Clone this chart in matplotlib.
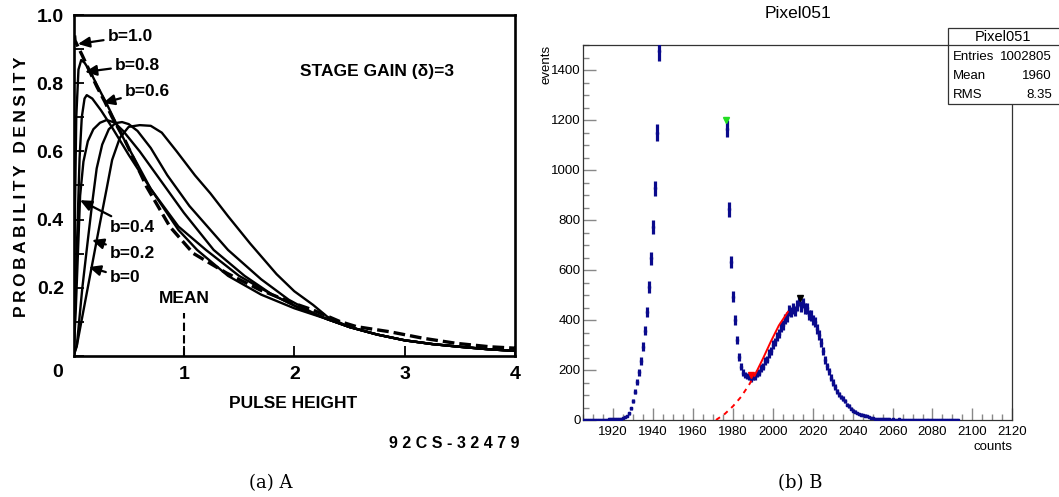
import numpy as np
import matplotlib.pyplot as plt
from matplotlib.patches import Rectangle
from matplotlib.lines import Line2D
from matplotlib.ticker import MultipleLocator

plt.rcParams['font.family'] = ['Liberation Sans', 'DejaVu Sans']

# ---------- panel (a): single electron pulse height curves ----------
b10_x = [0.01, 0.014, 0.077, 0.149, 0.213, 0.285, 0.349, 0.466, 0.663, 0.874, 1.085, 1.388,
         1.689, 1.991, 2.169, 2.414, 2.565, 2.867, 3.168, 3.471, 3.773, 4.0]
b10_y = [0.94, 0.925, 0.883, 0.833, 0.789, 0.745, 0.701, 0.633, 0.496, 0.379, 0.301, 0.243,
         0.194, 0.155, 0.135, 0.101, 0.086, 0.071, 0.052, 0.037, 0.027, 0.023]

tail_x = [2.5, 2.75, 3.0, 3.25, 3.5, 3.75, 4.0]
tail_y = [0.085, 0.063, 0.046, 0.035, 0.027, 0.02, 0.015]

b08_x = [0, 0.01, 0.025, 0.045, 0.07, 0.1, 0.15, 0.22, 0.3, 0.45, 0.7, 0.95, 1.12, 1.4,
         1.7, 2.0, 2.3]
b08_y = [0, 0.35, 0.7, 0.84, 0.868, 0.86, 0.835, 0.79, 0.74, 0.64, 0.49, 0.37, 0.311, 0.235,
         0.18, 0.14, 0.108]

b06_x = [0, 0.02, 0.04, 0.055, 0.075, 0.1, 0.12, 0.17, 0.25, 0.35, 0.5, 0.7, 0.95, 1.2, 1.5,
         1.8, 2.05, 2.3]
b06_y = [0, 0.2, 0.42, 0.58, 0.7, 0.755, 0.765, 0.755, 0.72, 0.67, 0.59, 0.49, 0.38, 0.311,
         0.235, 0.18, 0.14, 0.108]

b04_x = [0, 0.02, 0.04, 0.06, 0.09, 0.13, 0.18, 0.24, 0.3, 0.37, 0.45, 0.6, 0.8, 1.0, 1.27,
         1.55, 1.8, 2.05, 2.3]
b04_y = [0, 0.13, 0.3, 0.47, 0.57, 0.63, 0.665, 0.684, 0.692, 0.685, 0.66, 0.6, 0.51, 0.42,
         0.311, 0.235, 0.18, 0.14, 0.108]

b02_x = [0, 0.03, 0.08, 0.13, 0.17, 0.21, 0.26, 0.32, 0.38, 0.44, 0.5, 0.58, 0.7, 0.85, 1.05,
         1.4, 1.7, 1.95, 2.15, 2.3]
b02_y = [0, 0.03, 0.2, 0.34, 0.45, 0.55, 0.62, 0.665, 0.683, 0.686, 0.68, 0.66, 0.61, 0.53,
         0.44, 0.311, 0.225, 0.165, 0.13, 0.108]

b00_x = [0, 0.03, 0.1, 0.17, 0.24, 0.3, 0.35, 0.42, 0.5, 0.6, 0.7, 0.8, 0.935, 1.1, 1.24,
         1.4, 1.6, 1.84, 2.0, 2.17, 2.3]
b00_y = [0, 0.03, 0.15, 0.27, 0.39, 0.49, 0.575, 0.64, 0.672, 0.677, 0.675, 0.655, 0.6, 0.53,
         0.477, 0.41, 0.33, 0.24, 0.19, 0.15, 0.115]

# label text position and arrow tip, in data units
b_labels = ['b=1.0', 'b=0.8', 'b=0.6', 'b=0.4', 'b=0.2', 'b=0']
b_text_xy = [(0.31, 0.938), (0.376, 0.853), (0.466, 0.777), (0.33, 0.378), (0.33, 0.302), (0.33, 0.229)]
b_tip_xy = [(0.04, 0.915), (0.104, 0.833), (0.267, 0.742), (0.059, 0.457), (0.168, 0.34), (0.14, 0.261)]

# ---------- panel (b): Pixel051 histogram ----------
lo_counts = np.arange(1905, 1944)
lo_events = [1, 1, 1, 1, 1, 1, 1, 1, 2, 2, 2, 2, 2, 3, 3, 3, 4, 4, 5, 6, 8, 11, 15, 27, 47,
             76, 113, 151, 191, 237, 293, 357, 433, 533, 647, 773, 927, 1150, 1475]
hi_counts = np.arange(1977, 2094)
hi_events = [1165, 843, 632, 493, 400, 320, 253, 213, 190, 180, 176, 172, 165, 174, 172, 186,
             190, 208, 214, 236, 242, 266, 276, 302, 312, 334, 346, 372, 380, 404, 412, 438,
             432, 446, 436, 458, 476, 455, 468, 446, 447, 420, 418, 400, 392, 365, 340, 310,
             275, 240, 215, 195, 170, 150, 133, 115, 103, 92, 85, 75, 62, 55, 45, 38, 33, 28,
             25, 22, 20, 18, 16, 13, 10, 8, 6, 5, 5, 4, 4, 3, 3, 3, 2, 3, 2, 2, 3, 2, 2, 2,
             2, 1, 2, 2, 1, 2, 2, 1, 1, 2, 1, 1, 2, 1, 1, 1, 1, 1, 1, 1, 1, 1, 1, 1, 1, 1, 1]

fit_dash_x = [1971.5, 1976, 1980, 1984, 1988, 1991]
fit_dash_y = [0, 25, 55, 92, 140, 180]
fit_solid_x = [1991, 1995, 1999, 2003, 2007.5]
fit_solid_y = [180, 245, 314, 378, 432]

peak_x = [1976.5, 1989, 2013.5]
peak_y = [1200, 182, 488]
peak_colors = ['#22dd22', 'red', 'black']

x2_ticks = [1920, 1940, 1960, 1980, 2000, 2020, 2040, 2060, 2080, 2100, 2120]
y2_ticks = [0, 200, 400, 600, 800, 1000, 1200, 1400]
stats_rows = [('Entries', '1002805'), ('Mean', '1960'), ('RMS', '8.35')]

W, H = 1059, 497
fig = plt.figure(figsize=(W / 100, H / 100), dpi=100)


def fx(px):
    return px / W


def fy(py):
    return 1 - py / H


# ---------------- left panel ----------------
ax = fig.add_axes([fx(73.5), fy(356), fx(515 - 73.5), (356 - 15) / H])
ax.set_xlim(0, 4)
ax.set_ylim(0, 1)
for s in ax.spines.values():
    s.set_linewidth(1.9)

ax.plot(b10_x, b10_y, color='k', lw=2.4, dashes=(3.5, 1.5))
for xs, ys in [(b08_x, b08_y), (b06_x, b06_y), (b04_x, b04_y), (b02_x, b02_y), (b00_x, b00_y)]:
    ax.plot(list(xs) + tail_x, list(ys) + tail_y, color='k', lw=1.7)

bold = dict(fontweight='bold', color='k')
for lab, (tx, ty), (hx, hy) in zip(b_labels, b_text_xy, b_tip_xy):
    ax.annotate(lab, xy=(hx, hy), xytext=(tx, ty), ha='left', va='center', fontsize=12.5,
                arrowprops=dict(arrowstyle='-|>,head_length=0.55,head_width=0.25', lw=1.6,
                                color='k', shrinkA=1, shrinkB=0), **bold)

ax.text(2.05, 0.835, 'STAGE GAIN (δ)=3', fontsize=12.5, ha='left', va='center', **bold)
ax.text(1.0, 0.17, 'MEAN', fontsize=12.5, ha='center', va='center', **bold)
ax.plot([1, 1], [0, 0.125], color='k', lw=1.5, dashes=(4, 2))

ax.set_xticks([1, 2, 3, 4])
ax.set_xticklabels(['1', '2', '3', '4'])
ax.set_yticks([0.2, 0.4, 0.6, 0.8, 1.0])
ax.set_yticklabels(['0.2', '0.4', '0.6', '0.8', '1.0'])
ax.yaxis.set_minor_locator(MultipleLocator(0.1))
ax.tick_params(direction='in', length=7, width=1.3, labelsize=14, pad=7)
ax.tick_params(axis='y', which='minor', direction='in', length=7, width=1.3)
for t in ax.get_xticklabels() + ax.get_yticklabels():
    t.set_fontweight('bold')
ax.text(-0.14, -0.047, '0', fontsize=14, ha='center', va='center', clip_on=False, **bold)

fig.text(fx(22), fy(187), '\u2009'.join('PROBABILITY DENSITY'), rotation=90, ha='center',
         va='center', fontsize=12.5, **bold)
fig.text(fx(293), fy(403), 'PULSE HEIGHT', ha='center', va='center', fontsize=12.5, **bold)
fig.text(fx(454), fy(444), '9 2 C S - 3 2 4 7 9', ha='center', va='center', fontsize=11.5, **bold)

# ---------------- right panel ----------------
navy = '#0a0a8c'
ax2 = fig.add_axes([fx(583.3), fy(420), fx(1012.3 - 583.3), (420 - 45) / H])
ax2.set_xlim(1905, 2120)
ax2.set_ylim(0, 1500)
for s in ax2.spines.values():
    s.set_linewidth(0.9)
    s.set_color('#333333')

for cx, ev in [(lo_counts, lo_events), (hi_counts, hi_events)]:
    ev = np.array(ev, dtype=float)
    ax2.errorbar(cx, ev, xerr=0.5, yerr=np.sqrt(ev), fmt='none', ecolor=navy,
                 elinewidth=2.3, capsize=0, zorder=3)
    ax2.plot(cx, ev, 's', color=navy, ms=1.5, zorder=3)

ax2.plot(fit_dash_x, fit_dash_y, color='red', lw=1.4, dashes=(2.5, 2.5), zorder=4)
ax2.plot(fit_solid_x, fit_solid_y, color='red', lw=1.4, zorder=4)
for px_, py_, c in zip(peak_x, peak_y, peak_colors):
    ax2.plot(px_, py_, marker='v', color=c, ms=5, zorder=5, clip_on=False)

ax2.set_xticks(x2_ticks)
ax2.set_yticks(y2_ticks)
ax2.xaxis.set_minor_locator(MultipleLocator(5))
ax2.yaxis.set_minor_locator(MultipleLocator(50))
ax2.tick_params(which='major', direction='in', length=9, width=1.0, color='#888888',
                labelsize=9.5, top=False, right=False)
ax2.tick_params(which='minor', direction='in', length=4.5, width=1.0, color='#888888',
                top=False, right=False)
ax2.tick_params(axis='y', pad=2)
ax2.tick_params(axis='x', pad=4)

fig.text(fx(798), fy(14), 'Pixel051', ha='center', va='center', fontsize=12.5)
fig.text(fx(547), fy(45), 'events', rotation=90, ha='center', va='top', fontsize=9.5)
fig.text(fx(1012), fy(447), 'counts', ha='right', va='center', fontsize=9.5)

# stats box
box = Rectangle((fx(948), fy(104)), fx(1062 - 948), (104 - 28) / H, transform=fig.transFigure,
                facecolor='white', edgecolor='#333333', lw=0.9, zorder=10)
fig.add_artist(box)
fig.add_artist(Line2D([fx(948), fx(1062)], [fy(45), fy(45)], transform=fig.transFigure,
                      color='#333333', lw=0.9, zorder=11))
fig.text(fx(1003), fy(37), 'Pixel051', ha='center', va='center', fontsize=10.5, zorder=12)
for i, (k, v) in enumerate(stats_rows):
    yy = fy(57 + 19 * i)
    fig.text(fx(953), yy, k, ha='left', va='center', fontsize=9.5, zorder=12)
    fig.text(fx(1052), yy, v, ha='right', va='center', fontsize=9.5, zorder=12)

# captions
fig.text(fx(271), fy(483), '(a) A', ha='center', va='center', fontsize=13, family='DejaVu Serif')
fig.text(fx(800), fy(483), '(b) B', ha='center', va='center', fontsize=13, family='DejaVu Serif')

fig.savefig('out.png', dpi=100)
